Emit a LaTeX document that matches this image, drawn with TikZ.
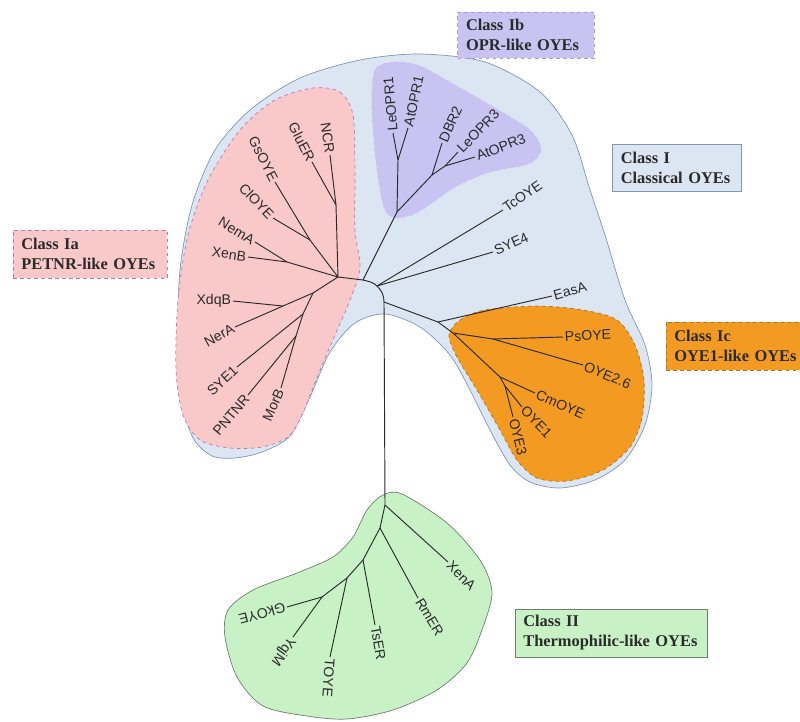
\documentclass[tikz,border=0pt]{standalone}
\usepackage{fontspec}
\setmainfont{Liberation Serif}
\newfontfamily\leaffont{Liberation Sans}
\definecolor{clsIfill}{HTML}{DCE6F2}
\definecolor{clsIline}{HTML}{7F97B2}
\definecolor{clsIafill}{HTML}{F8C9C8}
\definecolor{clsIaline}{HTML}{B57AAE}
\definecolor{clsIbfill}{HTML}{C9C3F2}
\definecolor{clsIbline}{HTML}{A99AD8}
\definecolor{clsIcfill}{HTML}{F39A22}
\definecolor{clsIcline}{HTML}{A8742E}
\definecolor{clsIIfill}{HTML}{C8F2C6}
\definecolor{clsIIline}{HTML}{6F806F}
\definecolor{ink}{HTML}{2A2A2A}

\begin{document}
\begin{tikzpicture}[x=0.03cm,y=-0.03cm,
 br/.style={draw=ink,line width=0.8pt},
 leaf/.style={font=\leaffont\fontsize{12}{12}\selectfont,text=ink,inner sep=1.5pt},
 cbox/.style={font=\bfseries\fontsize{14}{17}\selectfont,text=ink,align=left,
  inner xsep=0.25cm,minimum height=1.45cm},
 blob/.style={line width=0.6pt}]
\useasboundingbox (0,0) rectangle (800,722);

\draw[blob,draw=clsIline,fill=clsIfill] plot[smooth cycle] coordinates {
 (212,456) (193,438) (182,400) (178,340) (180,270) (192,205) (215,150)
 (250,110) (300,78) (360,60) (420,54) (485,62) (540,92) (572,135)
 (590,190) (605,235) (625,300) (645,345) (652,385) (645,425) (625,460)
 (595,480) (560,488) (530,482) (510,465) (490,430) (470,390) (450,355)
 (420,327) (385,314) (355,323) (330,352) (310,397) (290,436) (262,452) (235,458)};
\draw[blob,dashed,draw=clsIaline,fill=clsIafill] plot[smooth cycle] coordinates {
 (313,88) (340,92) (353,115) (355,170) (355,230) (360,268) (350,300)
 (335,335) (318,375) (302,415) (288,437) (262,447) (230,448) (200,440)
 (183,415) (176,370) (178,300) (188,235) (208,180) (240,130) (275,100)};
\draw[blob,dashed,draw=clsIbfill,fill=clsIbfill] plot[smooth cycle] coordinates {
 (375,70) (395,62) (420,66) (455,85) (495,108) (530,130) (541,150)
 (528,164) (490,172) (455,187) (420,211) (398,218) (385,210) (377,170) (372,110)};
\draw[blob,dashed,draw=clsIcline,fill=clsIcfill] plot[smooth cycle] coordinates {
 (449,335) (460,320) (485,310) (537,306) (583,310) (617,320) (635,345)
 (644,380) (642,418) (630,447) (603,470) (567,481) (537,478) (517,460)
 (500,430) (477,390) (457,357)};
\draw[blob,draw=clsIIline,fill=clsIIfill] plot[smooth cycle] coordinates {
 (383,495) (402,494) (447,523) (480,560) (492,592) (483,627) (467,663)
 (437,690) (393,710) (347,719) (307,716) (263,706) (237,677) (225,637)
 (228,610) (253,590) (297,573) (333,557) (353,537) (367,510)};

\coordinate (j1) at (363,280);
\coordinate (j2) at (377,286);
\coordinate (j3) at (384,302);
\coordinate (p0) at (338,277);
\coordinate (a1) at (336,205);
\coordinate (a2) at (310,240);
\coordinate (a3) at (287,262);
\coordinate (b1) at (313,293);
\coordinate (b2) at (283,306);
\coordinate (b3) at (303,314);
\coordinate (b4) at (296,336);
\coordinate (c0) at (397,212);
\coordinate (c1) at (398,160);
\coordinate (c2) at (432,175);
\coordinate (c3) at (445,166);
\coordinate (d0) at (438,322);
\coordinate (d1) at (453,333);
\coordinate (d2) at (493,339);
\coordinate (d3) at (500,377);
\coordinate (d4) at (505,386);
\coordinate (e0) at (385,505);
\coordinate (e1) at (380,528);
\coordinate (e2) at (363,560);
\coordinate (e3) at (347,578);
\coordinate (e4) at (322,597);

\coordinate (ncr) at (330,155);
\coordinate (glu) at (312,162);
\coordinate (gs) at (275,182);
\coordinate (cl) at (273,218);
\coordinate (nem) at (255,242);
\coordinate (xenb) at (248,257);
\coordinate (xdq) at (233,301);
\coordinate (ner) at (235,327);
\coordinate (sye1) at (237,367);
\coordinate (pnt) at (248,395);
\coordinate (mor) at (281,388);
\coordinate (leo1) at (393,133);
\coordinate (ato1) at (408,128);
\coordinate (dbr) at (442,143);
\coordinate (leo3) at (458,152);
\coordinate (ato3) at (475,157);
\coordinate (tc) at (503,210);
\coordinate (sye4) at (493,252);
\coordinate (eas) at (552,296);
\coordinate (ps) at (563,337);
\coordinate (oye26) at (583,365);
\coordinate (cm) at (535,393);
\coordinate (oye1) at (522,407);
\coordinate (oye3) at (513,417);
\coordinate (xena) at (448,562);
\coordinate (rm) at (418,598);
\coordinate (ts) at (375,625);
\coordinate (toye) at (330,657);
\coordinate (gk) at (287,607);
\coordinate (yqj) at (293,637);

\draw[br] (j1) to[out=-15,in=135] (j2) to[out=-45,in=90] (j3);
\foreach \a/\b in {p0/j1,p0/a1,a1/ncr,a1/glu,p0/a2,a2/gs,a2/cl,p0/a3,a3/nem,a3/xenb,
 p0/b1,b1/b2,b2/xdq,b2/ner,b1/b3,b3/sye1,b3/b4,b4/pnt,b4/mor,
 j1/c0,c0/c1,c1/leo1,c1/ato1,c0/c2,c2/dbr,c2/c3,c3/leo3,c3/ato3,
 j2/tc,j2/sye4,j3/d0,d0/eas,d0/d1,d1/d2,d2/ps,d2/oye26,d1/d3,d3/cm,d3/d4,d4/oye1,d4/oye3,
 j3/e0,e0/xena,e0/e1,e1/rm,e1/e2,e2/ts,e2/e3,e3/toye,e3/e4,e4/gk,e4/yqj}
 \draw[br] (\a) -- (\b);

\foreach \n/\t/\r in {ncr/NCR/-82,glu/GluER/-63,gs/GsOYE/-63,cl/ClOYE/-46,nem/NemA/-31,
 xenb/XenB/-8,xdq/XdqB/0,ner/NerA/29,sye1/SYE1/43,pnt/PNTNR/50,mor/MorB/66}
 \node[leaf,rotate=\r,anchor=east] (l\n) at (\n) {\t};
\foreach \n/\t/\r in {leo1/LeOPR1/95,ato1/AtOPR1/78,dbr/DBR2/66,leo3/LeOPR3/46,ato3/AtOPR3/21,
 tc/TcOYE/35,sye4/SYE4/24,eas/EasA/16,ps/PsOYE/3,oye26/OYE2.6/-23,cm/CmOYE/-24,
 oye1/OYE1/-46,oye3/OYE3/-76,xena/XenA/-46,rm/RmER/-59,ts/TsER/-80,toye/TOYE/-94,
 yqj/YqjM/-125,gk/GkOYE/-165}
 \node[leaf,rotate=\r,anchor=west] (l\n) at (\n) {\t};

\node[cbox,draw=clsIbline,dashed,fill=clsIbfill,text width=3.6cm,minimum height=1.38cm] (boxIb) at (526,35)
 {Class Ib\\OPR-like OYEs};
\node[cbox,draw=clsIline,fill=clsIfill,text width=3.37cm,minimum height=1.41cm] (boxI) at (677,168)
 {Class I\\Classical OYEs};
\node[cbox,draw=clsIaline,dashed,fill=clsIafill,text width=4.12cm] (boxIa) at (90,254)
 {Class Ia\\PETNR-like OYEs};
\node[cbox,draw=clsIcline,dashed,fill=clsIcfill,text width=3.82cm] (boxIc) at (738,346)
 {Class Ic\\OYE1-like OYEs};
\node[cbox,draw=clsIIline,fill=clsIIfill,text width=5.26cm] (boxII) at (611,633)
 {Class II\\Thermophilic-like OYEs};
\end{tikzpicture}
\end{document}
